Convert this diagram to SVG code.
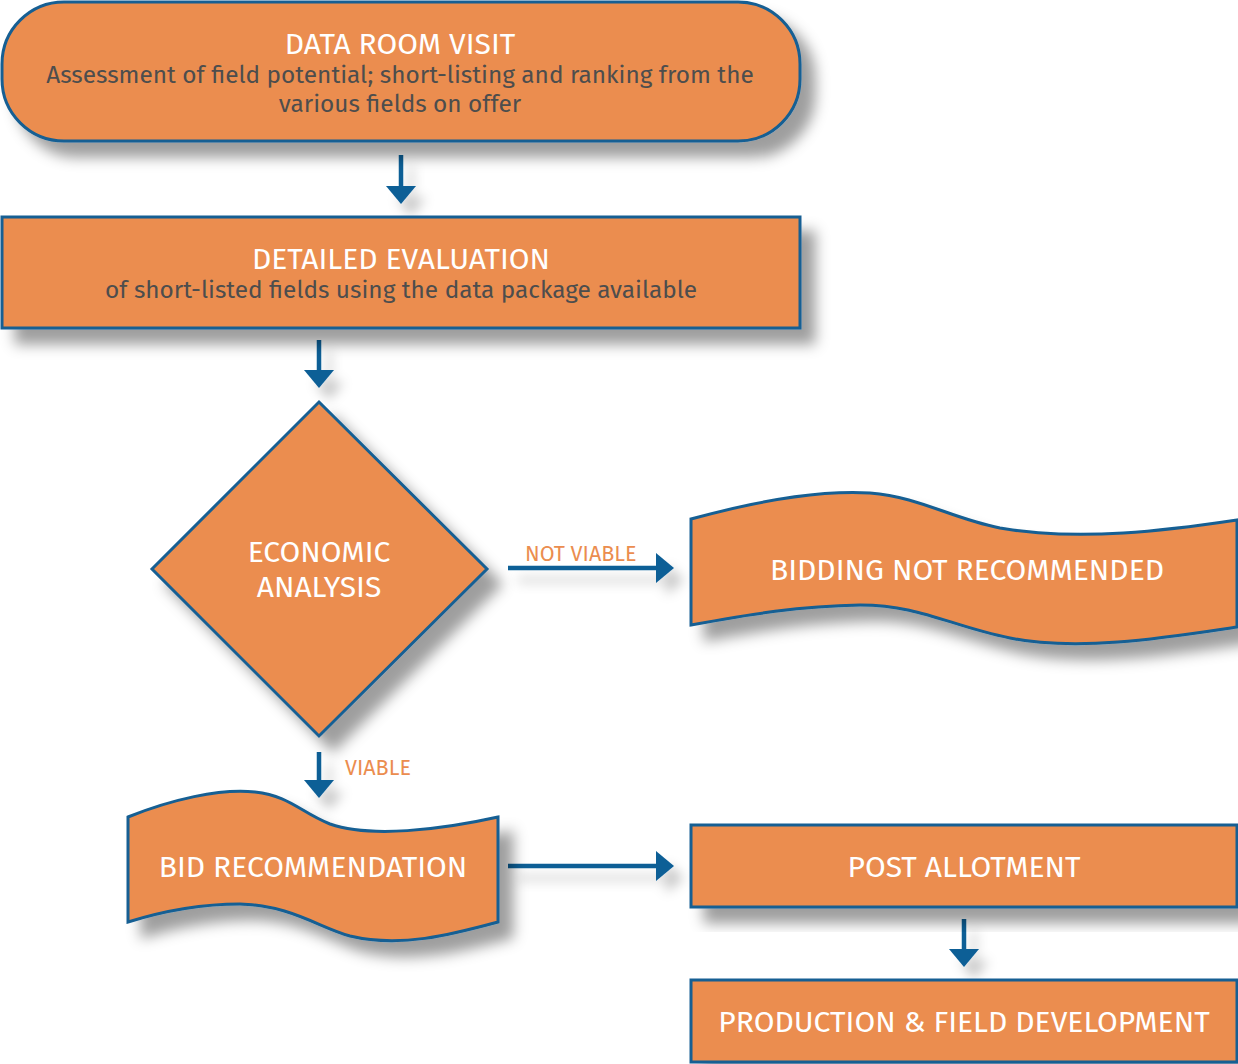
<svg xmlns="http://www.w3.org/2000/svg" width="1238" height="1064" viewBox="0 0 1238 1064">
<defs>
<filter id="sh" x="-10%" y="-10%" width="130%" height="140%">
<feDropShadow dx="14" dy="15" stdDeviation="7" flood-color="#000" flood-opacity="0.38"/>
</filter>
<filter id="ash" filterUnits="userSpaceOnUse" x="0" y="0" width="1238" height="1064">
<feDropShadow dx="10" dy="12" stdDeviation="6" flood-color="#000" flood-opacity="0.22"/>
</filter>
<style>
.n{fill:#eb8d4f;stroke:#155f93;stroke-width:3;filter:url(#sh)}
.t{font-family:"Fira Sans","Noto Sans","Open Sans",sans-serif;fill:#fff;font-size:30px;text-anchor:middle}
.s{font-family:"Fira Sans","Noto Sans","Open Sans",sans-serif;fill:#4d4d4d;font-size:24.4px;text-anchor:middle}
.l{font-family:"Fira Sans","Noto Sans","Open Sans",sans-serif;fill:#eb8d4f;font-size:21.5px}
.c{stroke:#0b5e96;stroke-width:4.5;fill:none}
.h{fill:#0b5e96}
.a{filter:url(#ash)}
</style>
</defs>
<g id="connectors">
<g class="a">
<path class="c" d="M401,155 V188"/><path class="h" d="M386,186 L416,186 L401,204 Z"/>
<path class="c" d="M319,340 V372"/><path class="h" d="M304,370 L334,370 L319,388 Z"/>
<path class="c" d="M508,568 H658"/><path class="h" d="M656,553 L656,583 L674,568 Z"/>
<path class="c" d="M319,752 V782"/><path class="h" d="M304,780 L334,780 L319,798 Z"/>
<path class="c" d="M508,866 H658"/><path class="h" d="M656,851 L656,881 L674,866 Z"/>
<path class="c" d="M964,919 V951"/><path class="h" d="M949,949 L979,949 L964,967 Z"/>
</g>
<text class="l" x="525" y="561">NOT VIABLE</text>
<text class="l" x="345" y="775">VIABLE</text>
</g>
<g id="data-room-visit">
<rect class="n" x="2" y="2" width="798" height="139" rx="62"/>
<text class="t" x="400" y="54">DATA ROOM VISIT</text>
<text class="s" x="400" y="83">Assessment of field potential; short-listing and ranking from the</text>
<text class="s" x="400" y="112">various fields on offer</text>
</g>
<g id="detailed-evaluation">
<rect class="n" x="2" y="217" width="798" height="111"/>
<text class="t" x="401" y="269">DETAILED EVALUATION</text>
<text class="s" x="401" y="298">of short-listed fields using the data package available</text>
</g>
<g id="economic-analysis">
<path class="n" d="M319,402 L487,569 L319,736 L152,569 Z"/>
<text class="t" x="319" y="562">ECONOMIC</text>
<text class="t" x="319" y="597">ANALYSIS</text>
</g>
<g id="bidding-not-recommended">
<path class="n" d="M691,519 C760,500 820,490 870,493 C920,497 950,518 1000,528 C1080,542 1170,530 1237,520 V627 C1170,637 1080,652 1010,638 C950,626 920,605 860,605 C800,606 750,614 691,625 Z"/>
<text class="t" x="967" y="580">BIDDING NOT RECOMMENDED</text>
</g>
<g id="bid-recommendation">
<path class="n" d="M128,817 C170,800 220,788 255,792 C290,796 300,812 330,824 C370,838 440,830 498,817 V922 C450,935 400,948 350,936 C320,928 290,905 240,904 C200,904 160,912 128,922 Z"/>
<text class="t" x="313" y="877">BID RECOMMENDATION</text>
</g>
<g id="post-allotment">
<rect class="n" x="691" y="825" width="546" height="82"/>
<text class="t" x="964" y="877">POST ALLOTMENT</text>
</g>
<g id="production-field-development">
<rect class="n" x="691" y="980" width="546" height="82"/>
<text class="t" x="964" y="1032">PRODUCTION &amp; FIELD DEVELOPMENT</text>
</g>
</svg>
